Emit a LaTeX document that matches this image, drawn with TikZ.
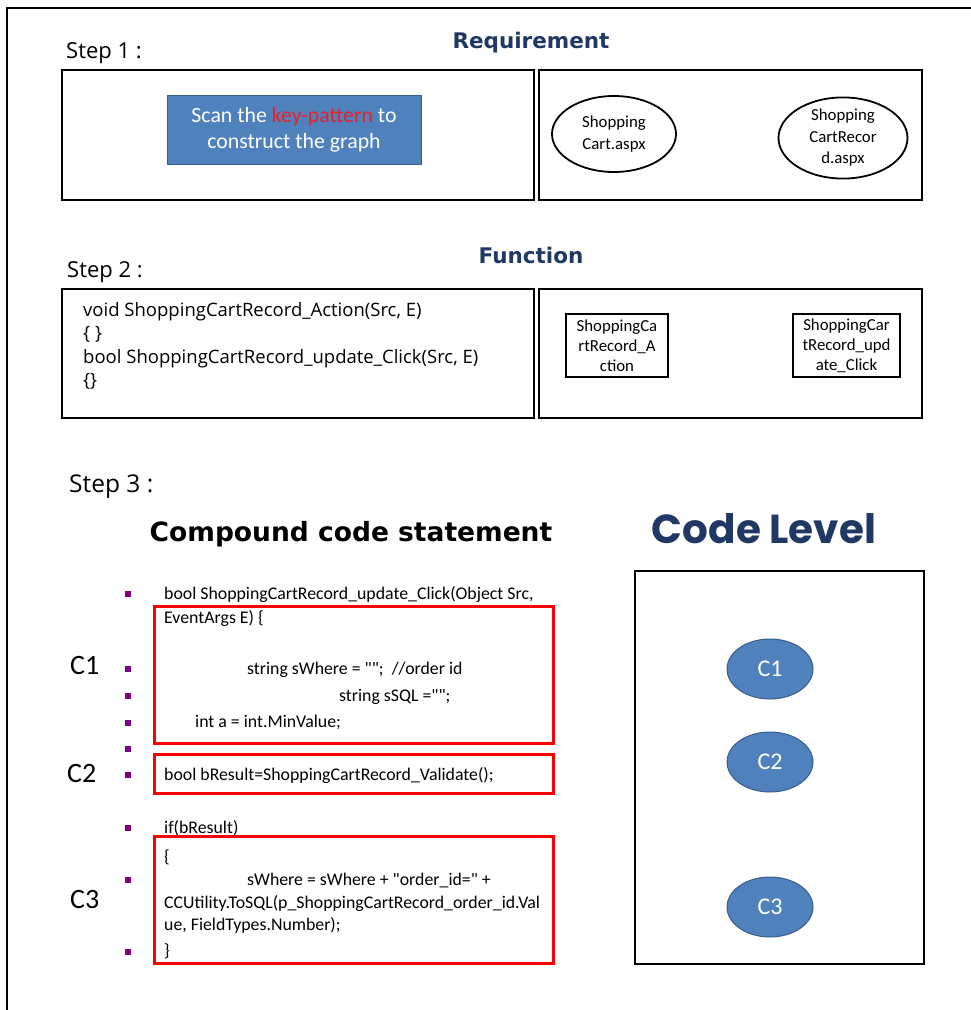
\documentclass[tikz,border=0pt]{standalone}
\usepackage{fontspec}
\setmainfont{Carlito}
\newfontfamily\uifont{Open Sans}
\newfontfamily\headfont{DejaVu Sans}
\newfontfamily\levelfont{Poppins}
\usetikzlibrary{shapes.geometric}

\definecolor{headnavy}{HTML}{1F3864}
\definecolor{fillblue}{HTML}{4F81BD}
\definecolor{edgeblue}{HTML}{385D8A}
\definecolor{bulletpurple}{HTML}{7F007F}
\definecolor{keyred}{HTML}{E8202A}

\newcommand{\fsz}[2]{\fontsize{#1}{#2}\selectfont}
\newcommand{\dq}{\textquotedbl}

\tikzset{
  panel/.style={draw=black, line width=2.2pt, anchor=north west, inner sep=0pt},
  steplabel/.style={anchor=base west, inner sep=0pt, font=\uifont\fsz{22}{26}},
  heading/.style={anchor=base, inner sep=0pt, text=headnavy, font=\headfont\bfseries\fsz{21.5}{26}},
  blueshape/.style={fill=fillblue, draw=edgeblue, line width=1pt, text=white},
  pageell/.style={ellipse, draw=black, line width=1.8pt, inner sep=0pt, align=center, font=\fsz{16.8}{21.5}},
  funcbox/.style={draw=black, line width=1.8pt, inner sep=0pt, align=center, font=\fsz{16.8}{20}},
  sigline/.style={anchor=base west, inner sep=0pt, font=\uifont\fsz{18.5}{22}},
  codeline/.style={anchor=base west, inner sep=0pt, font=\fsz{17.8}{20}},
  bulletsq/.style={fill=bulletpurple, draw=none, minimum size=6pt, inner sep=0pt},
  redbox/.style={draw=red, line width=2.6pt, anchor=north west, inner sep=0pt},
  clabel/.style={anchor=base west, inner sep=0pt, font=\fsz{28}{30}},
  cnode/.style={ellipse, blueshape, minimum width=86pt, minimum height=60pt, inner sep=0pt, font=\fsz{24}{26}}
}

\begin{document}
\begin{tikzpicture}[x=1pt, y=-1pt]
\useasboundingbox (0,0) rectangle (971,1010);

% outer frame (top and left edges)
\draw[line width=2.4pt] (7,1010) -- (7,8) -- (971,8);

% ---------- Step 1: requirement ----------
\node[steplabel] (s1) at (66,58) {Step 1 :};
\node[heading] (req) at (531,48) {Requirement};
\node[panel, minimum width=472pt, minimum height=130pt] (p1l) at (61,69) {};
\node[panel, minimum width=383pt, minimum height=130pt] (p1r) at (538,69) {};
\node[blueshape, rectangle, minimum width=254pt, minimum height=69pt, inner sep=0pt,
      align=center, font=\fsz{21.8}{26}] (scan) at (294,129.5)
  {Scan the \textcolor{keyred}{key-pattern} to\\construct the graph};
\node[pageell, minimum width=124pt, minimum height=76pt] (cart) at (614,134)
  {Shopping\\Cart.aspx};
\node[pageell, minimum width=129pt, minimum height=74pt] (record) at (843,138)
  {Shopping\\CartRecor\\d.aspx};

% ---------- Step 2: function ----------
\node[steplabel] (s2) at (67,277) {Step 2 :};
\node[heading] (func) at (531,263) {Function};
\node[panel, minimum width=472pt, minimum height=129pt] (p2l) at (61,288) {};
\node[panel, minimum width=383pt, minimum height=129pt] (p2r) at (538,288) {};
\node[sigline] (sig1) at (83,316) {void ShoppingCartRecord\_Action(Src, E)};
\node[sigline] (sig2) at (83,339.5) {\{ \}};
\node[sigline] (sig3) at (83,363) {bool ShoppingCartRecord\_update\_Click(Src, E)};
\node[sigline] (sig4) at (83,386.5) {\{\}};
\node[funcbox, minimum width=102pt, minimum height=63pt] (fa) at (617,345.5)
  {ShoppingCa\\rtRecord\_A\\ction};
\node[funcbox, minimum width=107pt, minimum height=63pt] (fb) at (846.5,345.5)
  {ShoppingCar\\tRecord\_upd\\ate\_Click};

% ---------- Step 3: code level ----------
\node[steplabel, font=\uifont\fsz{24.5}{28}] (s3) at (69,492) {Step 3 :};
\node[anchor=base, inner sep=0pt, font=\headfont\bfseries\fsz{26.5}{30}] (ccs) at (351,541)
  {Compound code statement};
\node[anchor=base, inner sep=0pt, text=headnavy, font=\levelfont\bfseries\fsz{40.5}{44}] (lvl) at (764,543)
  {Code Level};

% bullets
\foreach \by [count=\i] in {594,669,696,723,749,775,828,880,952}
  \node[bulletsq] (b\i) at (128,\by) {};

% statement lines
\node[codeline] (l1) at (164,599) {bool ShoppingCartRecord\_update\_Click(Object Src,};
\node[codeline] (l2) at (164,623) {EventArgs E) \{};
\node[codeline] (l3) at (247,674) {string sWhere = \dq\dq;\ \ //order id};
\node[codeline] (l4) at (339,701) {string sSQL =\dq\dq;};
\node[codeline] (l5) at (195,727) {int a = int.MinValue;};
\node[codeline] (l6) at (164,780) {bool bResult=ShoppingCartRecord\_Validate();};
\node[codeline] (l7) at (164,833) {if(bResult)};
\node[codeline] (l8) at (164,862) {\{};
\node[codeline] (l9) at (247,885) {sWhere = sWhere + \dq order\_id=\dq{} +};
\node[codeline] (l10) at (164,908) {CCUtility.ToSQL(p\_ShoppingCartRecord\_order\_id.Val};
\node[codeline] (l11) at (164,930) {ue, FieldTypes.Number);};
\node[codeline] (l12) at (164,956) {\}};

% compound statement frames
\node[redbox, minimum width=399pt, minimum height=137pt] (r1) at (153,605) {};
\node[redbox, minimum width=399pt, minimum height=39pt] (r2) at (153,753) {};
\node[redbox, minimum width=399pt, minimum height=127pt] (r3) at (153,835) {};

\node[clabel] (c1lab) at (70,674) {C1};
\node[clabel] (c2lab) at (67,782) {C2};
\node[clabel] (c3lab) at (70,908) {C3};

% code level graph
\node[panel, minimum width=289pt, minimum height=393pt] (lvlbox) at (634,570) {};
\node[cnode] (c1) at (770,669) {C1};
\node[cnode] (c2) at (770,762) {C2};
\node[cnode] (c3) at (770,907) {C3};
\end{tikzpicture}
\end{document}
